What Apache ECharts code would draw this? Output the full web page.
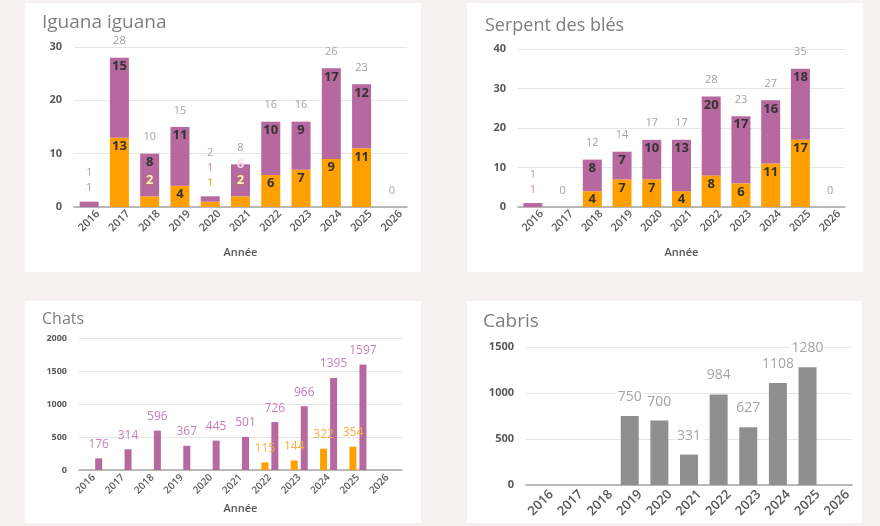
<!DOCTYPE html>
<html lang="fr">
<head>
    <meta charset="UTF-8">
    <title>Espèces</title>
    <style>
        body{ margin:0; background:#f4f1f0; }
        #main{ width:880px; height:526px; }
    </style>
    <script src="https://cdn.jsdelivr.net/npm/echarts@6/dist/echarts.min.js"></script>
</head>
<body>
<div id="main"></div>
<script>
    // données
    var years = ['2016','2017','2018','2019','2020','2021','2022','2023','2024','2025','2026'];

    var iguanaOrange = [0, 13, 2, 4, 1, 2, 6, 7, 9, 11, 0];
    var iguanaPurple = [1, 15, 8, 11, 1, 6, 10, 9, 17, 12, 0];

    var serpentOrange = [0, 0, 4, 7, 7, 4, 8, 6, 11, 17, 0];
    var serpentPurple = [1, 0, 8, 7, 10, 13, 20, 17, 16, 18, 0];

    var chatsOrange = [null, null, null, null, null, null, 115, 144, 322, 354, null];
    var chatsPurple = [176, 314, 596, 367, 445, 501, 726, 966, 1395, 1597, null];

    var cabris = [null, null, null, 750, 700, 331, 984, 627, 1108, 1280, null];

    var FONT = 'Open Sans';
    var ORANGE = '#ffa000';
    var PURPLE = '#b7699f';

    var myChart = echarts.init(document.getElementById('main'));

    // series empilées + libellé du total (barre à 0 au sommet de la pile)
    function stacked(idx, orange, purple, tinyMax) {
        var totals = orange.map(function (v, i) { return v + purple[i]; });
        var segLabel = {show: true, position: 'insideTop', distance: 2, color: '#333',
            fontWeight: 'bold', fontSize: 13, fontFamily: FONT};
        var oData = orange.map(function (v, i) {
            if (v === 0 || totals[i] <= tinyMax) return {value: v, label: {show: false}};
            if (v <= 2) return {value: v, label: {position: 'top', distance: 10, color: '#fff3c6',
                textBorderColor: 'rgba(170,120,20,0.7)', textBorderWidth: 1}};
            return v;
        });
        var pData = purple.map(function (v, i) {
            if (v === 0 || totals[i] <= tinyMax) return {value: v, label: {show: false}};
            if (orange[i] > 0 && orange[i] <= 2 && v <= 6) return {value: v, label: {offset: [0, -9], color: '#f5d9ec'}};
            return v;
        });
        var tData = totals.map(function (t) {
            return {value: 0, label: {distance: (t > 0 && t <= tinyMax) ? 6 : 9}};
        });
        return [
            {type: 'bar', stack: 's' + idx, xAxisIndex: idx, yAxisIndex: idx, barWidth: 19,
                itemStyle: {color: ORANGE}, label: segLabel, data: oData},
            {type: 'bar', stack: 's' + idx, xAxisIndex: idx, yAxisIndex: idx, barWidth: 19,
                itemStyle: {color: PURPLE}, label: segLabel, data: pData},
            {type: 'bar', stack: 's' + idx, xAxisIndex: idx, yAxisIndex: idx, barWidth: 19,
                itemStyle: {color: 'transparent'}, data: tData,
                label: {show: true, position: 'top', color: '#a3a3a3', fontSize: 11, fontFamily: FONT, lineHeight: 15,
                    formatter: function (p) {
                        var i = p.dataIndex, t = totals[i];
                        if (t > 0 && t <= tinyMax) {
                            var s = '' + t;
                            if (purple[i] > 0) s += '\n{p|' + purple[i] + '}';
                            if (orange[i] > 0) s += '\n{o|' + orange[i] + '}';
                            return s;
                        }
                        return '' + t;
                    },
                    rich: {
                        p: {color: '#d07db5', fontSize: 11, fontFamily: FONT, lineHeight: 15},
                        o: {color: '#f2a20c', fontSize: 11, fontFamily: FONT, lineHeight: 15}
                    }}}
        ];
    }

    function xAx(idx, opts) {
        return {
            type: 'category', gridIndex: idx, data: years,
            axisTick: {show: false},
            axisLine: {lineStyle: {color: '#a6a6a6', width: 1.5}},
            axisLabel: Object.assign({rotate: 45, color: '#595959', fontFamily: FONT, fontWeight: 600}, opts.label),
            name: opts.name, nameLocation: 'middle', nameGap: opts.nameGap,
            nameTextStyle: {color: '#595959', fontSize: 11, fontWeight: 600, fontFamily: FONT}
        };
    }
    function yAx(idx, max, interval, fontSize) {
        return {
            type: 'value', gridIndex: idx, min: 0, max: max, interval: interval,
            axisLine: {show: false}, axisTick: {show: false},
            axisLabel: {color: '#595959', fontWeight: 'bold', fontSize: fontSize, fontFamily: FONT, margin: 12,
                formatter: function (v) { return String(v); }},
            splitLine: {lineStyle: {color: '#e6e6e6'}}
        };
    }

    function panel(x, y, w, h) {
        return {type: 'rect', shape: {x: x, y: y, width: w, height: h}, style: {fill: '#fff'}, z: -10};
    }
    function title(text, x, y, size) {
        return {type: 'text', x: x, y: y, z: 10,
            style: {text: text, fill: '#7f7f7f', fontSize: size, fontFamily: FONT, verticalAlign: 'middle'}};
    }

    var option = {
        animation: false,
        graphic: [
            panel(25, 3, 396, 269), panel(467, 3, 396, 269),
            panel(25, 301, 396, 222), panel(467, 301, 395, 222),
            title('Iguana iguana', 42, 23, 19),
            title('Serpent des blés', 485, 26, 18),
            title('Chats', 42, 319, 16),
            title('Cabris', 483, 322, 19)
        ],
        grid: [
            {left: 74, top: 47, width: 333, height: 160},
            {left: 518, top: 49, width: 327, height: 158},
            {left: 79, top: 338, width: 323, height: 132},
            {left: 526, top: 347, width: 326, height: 138}
        ],
        xAxis: [
            xAx(0, {name: 'Année', nameGap: 40, label: {fontSize: 11, align: 'center', verticalAlign: 'middle', margin: 14}}),
            xAx(1, {name: 'Année', nameGap: 40, label: {fontSize: 11, align: 'center', verticalAlign: 'middle', margin: 14}}),
            xAx(2, {name: 'Année', nameGap: 33, label: {fontSize: 10, margin: 6}}),
            xAx(3, {label: {fontSize: 13, align: 'center', verticalAlign: 'middle', margin: 18}})
        ],
        yAxis: [
            yAx(0, 30, 10, 11),
            yAx(1, 40, 10, 11),
            yAx(2, 2000, 500, 9),
            yAx(3, 1500, 500, 11)
        ],
        series: [].concat(
            stacked(0, iguanaOrange, iguanaPurple, 2),
            stacked(1, serpentOrange, serpentPurple, 1),
            [
                {type: 'bar', xAxisIndex: 2, yAxisIndex: 2, barWidth: 7, barGap: '43%',
                    itemStyle: {color: ORANGE}, data: chatsOrange,
                    label: {show: true, position: 'top', distance: 8, color: '#f3b13c', fontSize: 12, fontFamily: FONT}},
                {type: 'bar', xAxisIndex: 2, yAxisIndex: 2, barWidth: 7, barGap: '43%',
                    itemStyle: {color: PURPLE}, data: chatsPurple,
                    label: {show: true, position: 'top', distance: 8, color: '#c77fb5', fontSize: 12, fontFamily: FONT}},
                {type: 'bar', xAxisIndex: 3, yAxisIndex: 3, barWidth: 18,
                    itemStyle: {color: '#8f8f8f'}, data: cabris,
                    label: {show: true, position: 'top', distance: 12, color: '#a5a5a5', fontSize: 14, fontFamily: FONT,
                        backgroundColor: '#fff', padding: [0, 2]}}
            ]
        )
    };
    myChart.setOption(option);
</script>
</body>
</html>
